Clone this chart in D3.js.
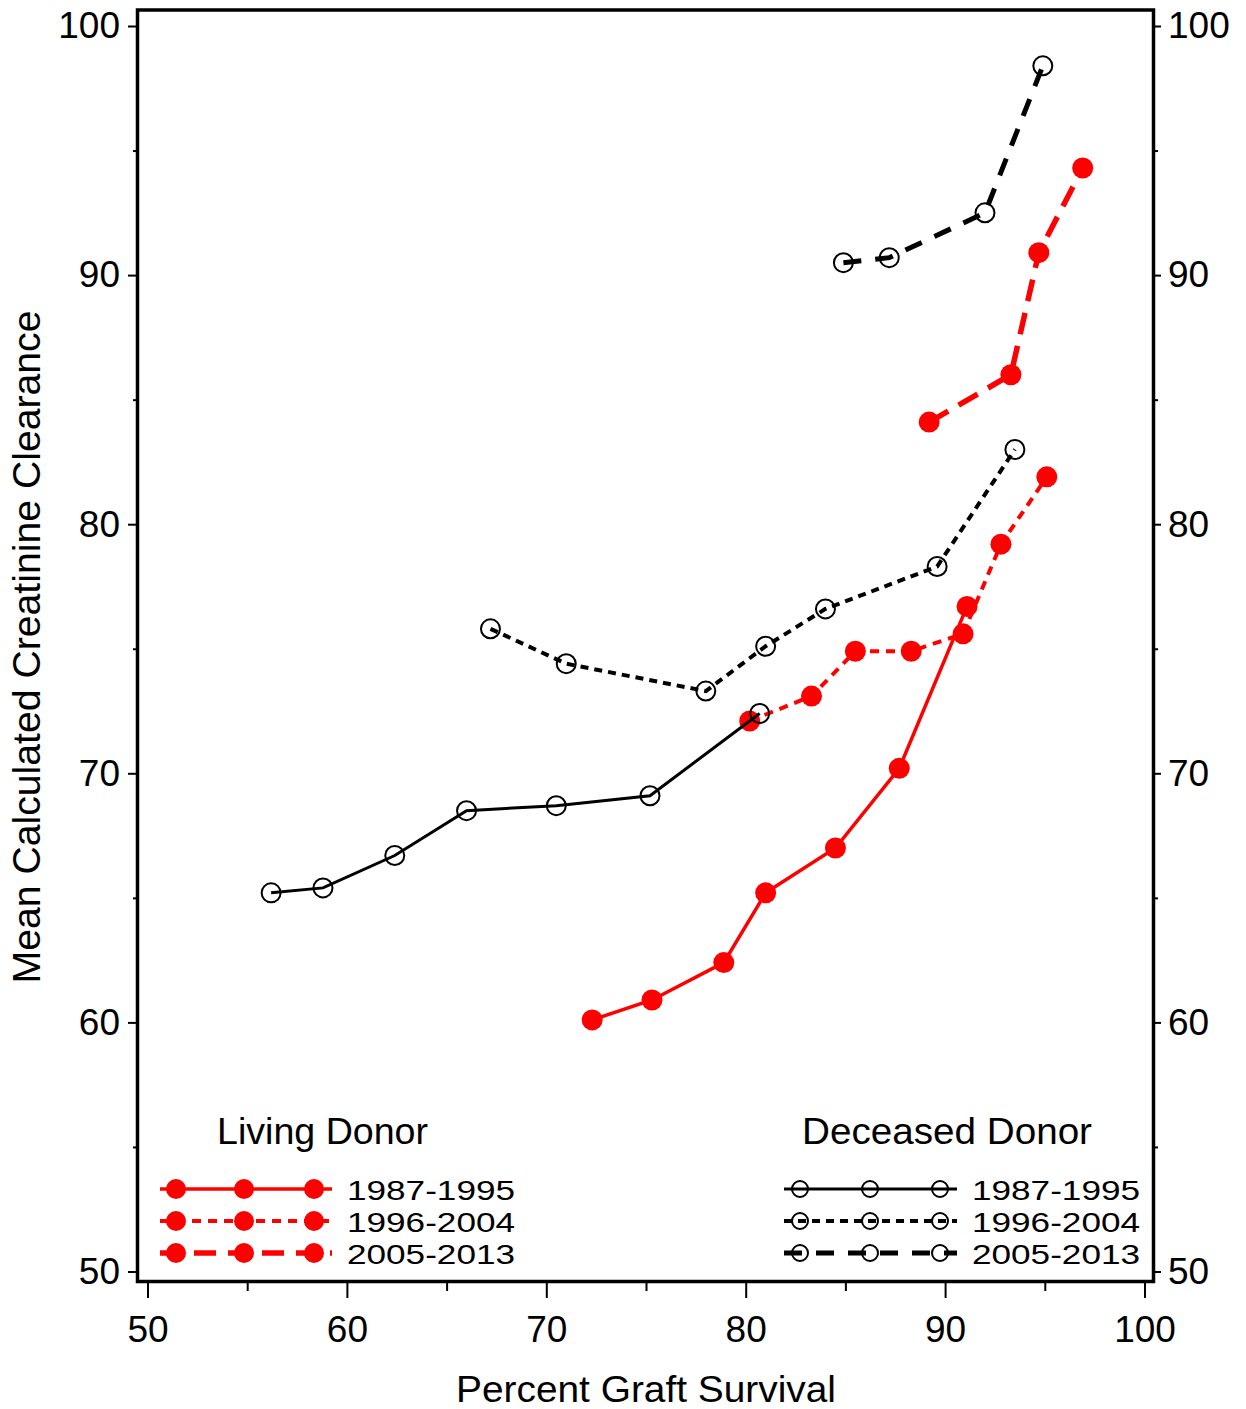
<!DOCTYPE html>
<html>
<head>
<meta charset="utf-8">
<script src="https://cdn.jsdelivr.net/npm/d3@7"></script>
<style>
  body { margin: 0; background: #fff; }
  svg { display: block; font-family: "Liberation Sans", Arial, sans-serif; }
</style>
</head>
<body>
<svg id="chart" width="1246" height="1409"></svg>
<script>
// ---- data ----
const xTicks = [50, 60, 70, 80, 90, 100];
const xMinorTicks = [55, 65, 75, 85, 95];
const yTicks = [50, 60, 70, 80, 90, 100];
const yMinorTicks = [55, 65, 75, 85, 95];
const periods = ["1987-1995", "1996-2004", "2005-2013"];

const livingX1987 = [72.3, 75.3, 78.9, 81.0, 84.5, 87.7, 91.1];
const livingY1987 = [60.1, 60.9, 62.4, 65.2, 67.0, 70.2, 76.7];
const livingX1996 = [80.2, 83.3, 85.5, 88.3, 90.9, 92.8, 95.1];
const livingY1996 = [72.1, 73.1, 74.9, 74.9, 75.6, 79.2, 81.9];
const livingX2005 = [89.2, 93.3, 94.7, 96.9];
const livingY2005 = [84.1, 86.0, 90.9, 94.3];

const deceasedX1987 = [56.2, 58.8, 62.4, 66.0, 70.5, 75.2, 80.7];
const deceasedY1987 = [65.2, 65.4, 66.7, 68.5, 68.7, 69.1, 72.4];
const deceasedX1996 = [67.2, 71.0, 78.0, 81.0, 84.0, 89.6, 93.5];
const deceasedY1996 = [75.8, 74.4, 73.3, 75.1, 76.6, 78.3, 83.0];
const deceasedX2005 = [84.9, 87.2, 92.0, 94.9];
const deceasedY2005 = [90.5, 90.7, 92.5, 98.4];

// ---- layout ----
const svg = d3.select("#chart");
const x = d3.scaleLinear().domain([50, 100]).range([147.5, 1144.5]);
const y = d3.scaleLinear().domain([50, 100]).range([1271.5, 26]);
const frame = {left: 137.5, right: 1153.5, top: 10, bottom: 1281.5};
const FONT = 37;

const zip = (xs, ys) => xs.map((v, i) => [v, ys[i]]);

const redStyles = [
  {dash: null, width: 3.5},
  {dash: "9,7", width: 4},
  {dash: "22,12", width: 5.5}
];
const blackStyles = [
  {dash: null, width: 3},
  {dash: "8,6", width: 4},
  {dash: "18,14", width: 5}
];

const living = [zip(livingX1987, livingY1987), zip(livingX1996, livingY1996), zip(livingX2005, livingY2005)];
const deceased = [zip(deceasedX1987, deceasedY1987), zip(deceasedX1996, deceasedY1996), zip(deceasedX2005, deceasedY2005)];

const line = d3.line().x(d => x(d[0])).y(d => y(d[1]));

living.forEach((pts, i) => {
  const g = svg.append("g");
  g.append("path").attr("d", line(pts)).attr("fill", "none")
    .attr("stroke", "#ff0000").attr("stroke-width", redStyles[i].width)
    .attr("stroke-dasharray", redStyles[i].dash);
  g.selectAll("circle").data(pts).join("circle")
    .attr("cx", d => x(d[0])).attr("cy", d => y(d[1])).attr("r", 10.5)
    .attr("fill", "#ff0000");
});

deceased.forEach((pts, i) => {
  const g = svg.append("g");
  g.append("path").attr("d", line(pts)).attr("fill", "none")
    .attr("stroke", "#000").attr("stroke-width", blackStyles[i].width)
    .attr("stroke-dasharray", blackStyles[i].dash);
  g.selectAll("circle").data(pts).join("circle")
    .attr("cx", d => x(d[0])).attr("cy", d => y(d[1])).attr("r", 9.5)
    .attr("fill", "none").attr("stroke", "#000").attr("stroke-width", 2);
});

// ---- axes ----
function styleAxis(g) {
  g.select(".domain").remove();
  g.selectAll("line").attr("stroke", "#000").attr("stroke-width", 2);
  g.selectAll("text").attr("font-size", FONT).attr("fill", "#000")
    .attr("font-family", "'Liberation Sans', Arial, sans-serif");
}
svg.append("g").attr("transform", `translate(0,${frame.bottom + 1.5})`)
  .call(d3.axisBottom(x).tickValues(xTicks).tickSize(15).tickPadding(18).tickFormat(d3.format("d")))
  .call(styleAxis);
svg.append("g").attr("transform", `translate(0,${frame.bottom + 1.5})`)
  .call(d3.axisBottom(x).tickValues(xMinorTicks).tickSize(8).tickFormat(""))
  .call(styleAxis);
svg.append("g").attr("transform", `translate(${frame.left - 1.5},0)`)
  .call(d3.axisLeft(y).tickValues(yTicks).tickSize(8).tickPadding(8).tickFormat(d3.format("d")))
  .call(styleAxis);
svg.append("g").attr("transform", `translate(${frame.left - 1.5},0)`)
  .call(d3.axisLeft(y).tickValues(yMinorTicks).tickSize(3).tickFormat(""))
  .call(styleAxis);
svg.append("g").attr("transform", `translate(${frame.right + 1.5},0)`)
  .call(d3.axisRight(y).tickValues(yTicks).tickSize(6).tickPadding(7).tickFormat(d3.format("d")))
  .call(styleAxis);
svg.append("g").attr("transform", `translate(${frame.right + 1.5},0)`)
  .call(d3.axisRight(y).tickValues(yMinorTicks).tickSize(3).tickFormat(""))
  .call(styleAxis);

svg.append("rect")
  .attr("x", frame.left).attr("y", frame.top)
  .attr("width", frame.right - frame.left).attr("height", frame.bottom - frame.top)
  .attr("fill", "none").attr("stroke", "#000").attr("stroke-width", 3.5);

svg.append("text").attr("x", 646).attr("y", 1402).attr("text-anchor", "middle")
  .attr("font-size", 37).attr("textLength", 380).attr("lengthAdjust", "spacingAndGlyphs")
  .text("Percent Graft Survival");
svg.append("text").attr("transform", "translate(40,647) rotate(-90)").attr("text-anchor", "middle")
  .attr("font-size", 38).attr("textLength", 673).attr("lengthAdjust", "spacingAndGlyphs")
  .text("Mean Calculated Creatinine Clearance");

// ---- legends ----
function legend(title, titleX, lineX0, lineX1, markX, textX, styles, color, filled, titleW) {
  svg.append("text").attr("x", titleX).attr("y", 1144).attr("font-size", 36)
    .attr("textLength", titleW).attr("lengthAdjust", "spacingAndGlyphs").text(title);
  periods.forEach((p, i) => {
    const yy = 1189 + i * 32;
    svg.append("line").attr("x1", lineX0).attr("x2", lineX1).attr("y1", yy).attr("y2", yy)
      .attr("stroke", color).attr("stroke-width", styles[i].width)
      .attr("stroke-dasharray", styles[i].dash);
    markX.forEach(mx => {
      const c = svg.append("circle").attr("cx", mx).attr("cy", yy);
      if (filled) c.attr("r", 10).attr("fill", color);
      else c.attr("r", 8).attr("fill", "none").attr("stroke", color).attr("stroke-width", 2);
    });
    svg.append("text").attr("x", textX).attr("y", yy + 11).attr("font-size", 28)
      .attr("textLength", 168).attr("lengthAdjust", "spacingAndGlyphs").text(p);
  });
}
legend("Living Donor", 217, 160, 332, [176, 244, 314], 347, redStyles, "#ff0000", true, 211);
legend("Deceased Donor", 802, 784, 957, [800, 870, 940], 972, blackStyles, "#000", false, 290);
</script>
</body>
</html>
